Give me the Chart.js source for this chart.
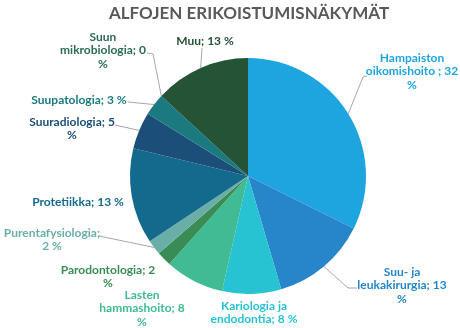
<!DOCTYPE html>
<html>
<head>
<meta charset="utf-8">
<script src="https://cdn.jsdelivr.net/npm/chart.js@4/dist/chart.umd.min.js"></script>
<style>
  html, body { margin: 0; padding: 0; background: #fff; }
  #wrap { width: 460px; height: 328px; }
</style>
</head>
<body>
<div id="wrap"><canvas id="myChart" width="460" height="328"></canvas></div>
<script>
    const title = 'ALFOJEN ERIKOISTUMISNÄKYMÄT';
    const categories = ['Hampaiston oikomishoito ', 'Suu- ja leukakirurgia', 'Kariologia ja endodontia',
        'Lasten hammashoito', 'Parodontologia', 'Purentafysiologia', 'Protetiikka',
        'Suuradiologia', 'Suupatologia', 'Suun mikrobiologia', 'Muu'];
    const percents = [32, 13, 8, 8, 2, 2, 13, 5, 3, 0, 13];
    const sliceColors = ['#1ea5e0', '#2686c9', '#27c3d3', '#40bb94', '#3a8c55', '#6aaea8',
        '#146a8c', '#1b4e78', '#1a7a80', '#2a6b55', '#245335'];

    // where each data label sits: text centre x, first line y, words per line,
    // and the leader line bend points (the line starts on the slice edge)
    const labelLayout = [
        { x: 412, y: 58, lines: [1, 3, 1], leader: [[363, 77], [367, 76]] },
        { x: 402, y: 272, lines: [2, 2, 1], leader: [[348, 288], [357, 288]] },
        { x: 254, y: 306, lines: [2, 3], leader: null },
        { x: 142, y: 295, lines: [1, 2, 1], leader: null },
        { x: 108, y: 270, lines: [2, 1], leader: null },
        { x: 52, y: 233, lines: [1, 2], leader: [[99, 236]] },
        { x: 78, y: 202, lines: [3], leader: null },
        { x: 72, y: 122, lines: [2, 1], leader: [[115, 125]] },
        { x: 79, y: 100, lines: [3], leader: [[128, 102]] },
        { x: 103, y: 37, lines: [1, 2, 1], leader: [[153, 54], [147, 53]] },
        { x: 205, y: 41, lines: [3], leader: [[202, 48]] }
    ];

    const labelFont = 'bold 12px Lato';

    const pieLabels = {
        id: 'pieLabels',
        afterDraw(chart) {
            const ctx = chart.ctx;
            const arcs = chart.getDatasetMeta(0).data;
            ctx.save();

            // title
            ctx.fillStyle = '#595959';
            ctx.font = 'bold 17px Lato';
            ctx.textAlign = 'center';
            ctx.textBaseline = 'middle';
            ctx.fillText(title, 249, 14);

            arcs.forEach((arc, i) => {
                const lay = labelLayout[i];
                const p = arc.getProps(['x', 'y', 'startAngle', 'endAngle', 'outerRadius'], true);
                const mid = (p.startAngle + p.endAngle) / 2;

                if (lay.leader) {
                    ctx.strokeStyle = '#a6a6a6';
                    ctx.lineWidth = 1;
                    ctx.beginPath();
                    ctx.moveTo(p.x + Math.cos(mid) * p.outerRadius, p.y + Math.sin(mid) * p.outerRadius);
                    lay.leader.forEach(pt => ctx.lineTo(pt[0], pt[1]));
                    ctx.stroke();
                }

                const words = (categories[i] + '; ' + percents[i] + ' %').split(' ');
                ctx.fillStyle = sliceColors[i];
                ctx.font = labelFont;
                let w = 0;
                lay.lines.forEach((n, li) => {
                    ctx.fillText(words.slice(w, w + n).join(' '), lay.x, lay.y + li * 13.5);
                    w += n;
                });
            });
            ctx.restore();
        }
    };

    const ctx = document.getElementById('myChart').getContext('2d');
    const specialtyChart = new Chart(ctx, {
        type: 'pie',
        data: {
            labels: categories,
            datasets: [{
                data: percents,
                backgroundColor: sliceColors,
                borderWidth: 0
            }]
        },
        options: {
            responsive: false,
            animation: false,
            rotation: 0,
            layout: {
                padding: { top: 58, bottom: 34, left: 130, right: 94 }
            },
            plugins: {
                legend: { display: false },
                tooltip: { enabled: false }
            }
        },
        plugins: [pieLabels]
    });
</script>
</body>
</html>
